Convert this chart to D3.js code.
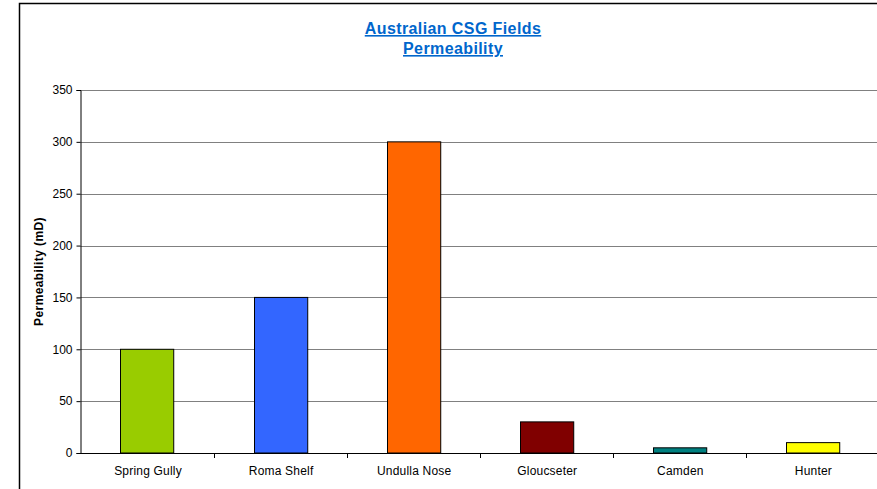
<!DOCTYPE html>
<html><head><meta charset="utf-8">
<script src="https://cdn.jsdelivr.net/npm/d3@7"></script>
<style>body{margin:0;background:#fff;} svg{display:block;font-family:"Liberation Sans",Arial,sans-serif;}</style>
</head><body>
<script>
const categories = ["Spring Gully","Roma Shelf","Undulla Nose","Gloucseter","Camden","Hunter"];
const values = [100,150,300,30,5,10];
const colors = ["#99CC00","#3366FF","#FF6600","#800000","#008080","#FFFF00"];
const yTicks = [0,50,100,150,200,250,300,350];

(function(){
const W=877,H=489;
const svg=d3.select("body").append("svg").attr("width",W).attr("height",H);
svg.append("rect").attr("width",W).attr("height",H).attr("fill","#fff");
// outer chart frame
svg.append("rect").attr("x",19.5).attr("y",3.5).attr("width",W+10).attr("height",H+10)
  .attr("fill","none").attr("stroke","#000").attr("stroke-width",1.5);

const pl=80.5, pr=879, pt=90, pb=453;
const x=d3.scaleBand().domain(categories).range([pl,pr]).paddingInner(0.6).paddingOuter(0.3);
const y=d3.scaleLinear().domain([0,350]).range([pb,pt]);

// gridlines
svg.append("g").selectAll("line").data(yTicks.filter(d=>d>0)).join("line")
  .attr("x1",pl).attr("x2",W).attr("y1",d=>Math.round(y(d))+0.5).attr("y2",d=>Math.round(y(d))+0.5)
  .attr("stroke","#808080").attr("stroke-width",1.2);

// bars
svg.append("g").selectAll("rect").data(categories).join("rect")
  .attr("x",d=>Math.round(x(d))+0.5).attr("width",x.bandwidth())
  .attr("y",(d,i)=>y(values[i])).attr("height",(d,i)=>pb-y(values[i]))
  .attr("fill",(d,i)=>colors[i]).attr("stroke","#000").attr("stroke-width",1);

// y axis
const ya=svg.append("g").attr("transform",`translate(${pl},0)`)
  .call(d3.axisLeft(y).tickValues(yTicks).tickSize(4).tickPadding(4));
ya.select(".domain").attr("stroke","#000");
ya.selectAll("text").attr("font-size",12).attr("fill","#000").attr("font-family","Liberation Sans, Arial, sans-serif");

// x axis baseline
svg.append("line").attr("x1",pl).attr("x2",W).attr("y1",pb+0.5).attr("y2",pb+0.5).attr("stroke","#000");
// x ticks at band boundaries
const bounds=d3.range(1,categories.length).map(i=>pl+(pr-pl)/categories.length*i);
svg.append("g").selectAll("line").data(bounds).join("line")
  .attr("x1",d=>Math.round(d)+0.5).attr("x2",d=>Math.round(d)+0.5).attr("y1",pb).attr("y2",pb+5).attr("stroke","#000");
svg.append("g").selectAll("text").data(categories).join("text")
  .attr("x",d=>x(d)+x.bandwidth()/2+1).attr("y",475).attr("text-anchor","middle")
  .attr("font-size",12).attr("letter-spacing",0.2).attr("fill","#000").text(d=>d);

// y label
svg.append("text").attr("transform",`translate(43,${(pt+pb)/2}) rotate(-90)`)
  .attr("text-anchor","middle").attr("font-size",12).attr("letter-spacing",0.4).attr("font-weight","bold").text("Permeability (mD)");

// title
const t=svg.append("text").attr("text-anchor","middle").attr("font-size",16).attr("letter-spacing",0.4).attr("font-weight","bold")
  .attr("fill","#0066CC").attr("text-decoration","underline");
t.append("tspan").attr("x",453).attr("y",34).text("Australian CSG Fields");
t.append("tspan").attr("x",453).attr("y",54).text("Permeability");
})();
</script>
</body></html>
